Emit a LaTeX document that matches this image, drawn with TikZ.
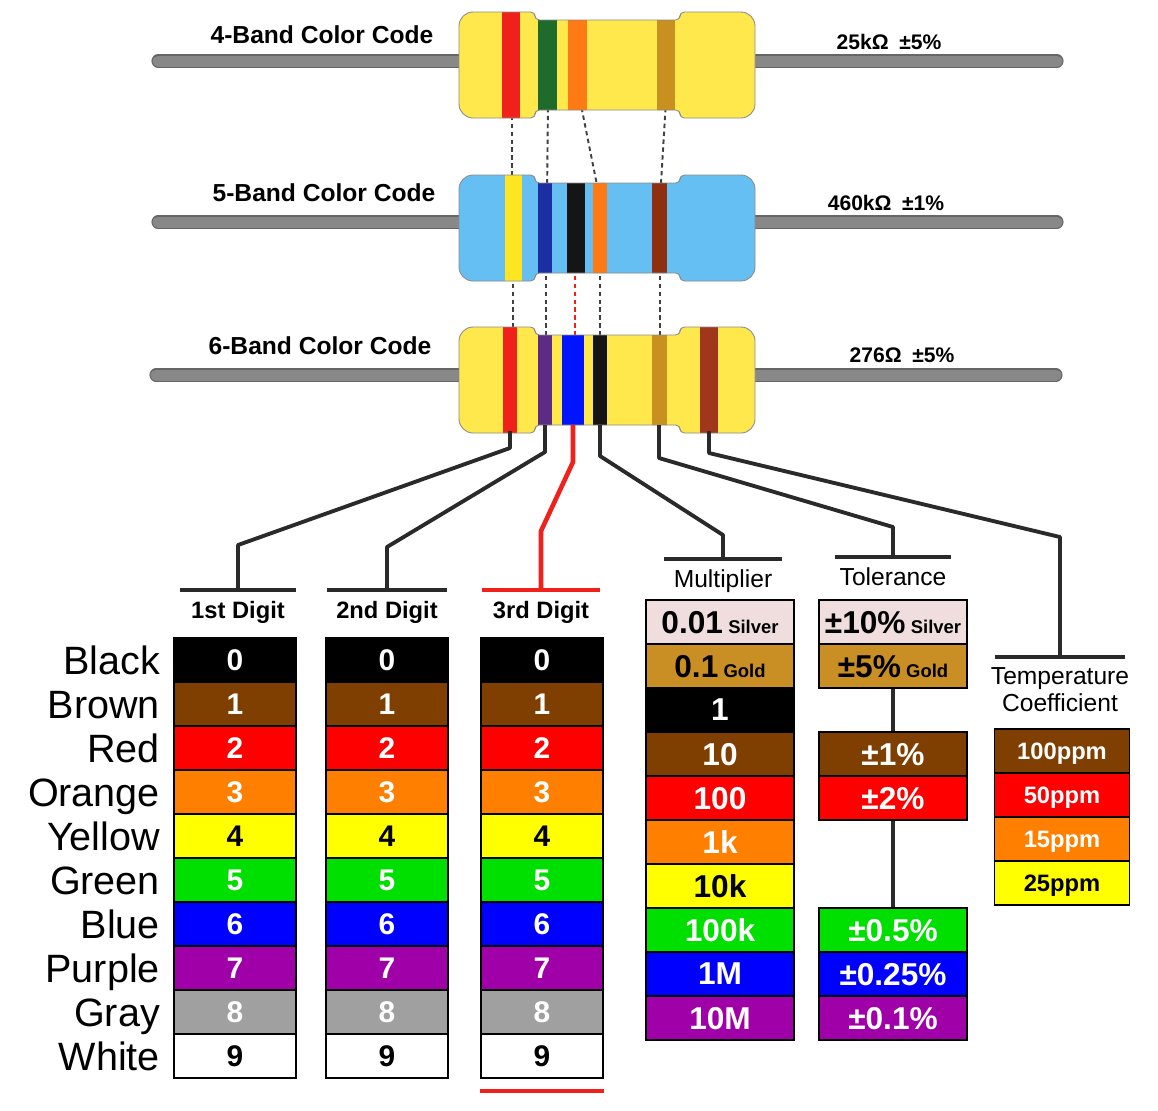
\documentclass[tikz,border=0pt]{standalone}
\usepackage{fontspec}
\setmainfont{Liberation Sans}
\usetikzlibrary{positioning}

% table colours
\definecolor{rcBlack}{HTML}{000000}
\definecolor{rcBrown}{HTML}{7F3F00}
\definecolor{rcRed}{HTML}{FF0000}
\definecolor{rcOrange}{HTML}{FF8000}
\definecolor{rcYellow}{HTML}{FFFF00}
\definecolor{rcGreen}{HTML}{00E000}
\definecolor{rcBlue}{HTML}{0000FF}
\definecolor{rcPurple}{HTML}{A000A8}
\definecolor{rcGray}{HTML}{A0A0A0}
\definecolor{rcWhite}{HTML}{FFFFFF}
\definecolor{rcSilver}{HTML}{F0DEDE}
\definecolor{rcGold}{HTML}{C98F24}
% resistor colours
\definecolor{bodyYellow}{HTML}{FFE84C}
\definecolor{bodyBlue}{HTML}{66BFF2}
\definecolor{bandRed}{HTML}{F0201A}
\definecolor{bandGreen}{HTML}{1F6B2C}
\definecolor{bandOrange}{HTML}{FF7A14}
\definecolor{bandGold}{HTML}{C8901E}
\definecolor{bandYellow}{HTML}{FFE620}
\definecolor{bandNavy}{HTML}{1B2FA3}
\definecolor{bandBlack}{HTML}{151515}
\definecolor{bandBrown}{HTML}{8E2F10}
\definecolor{bandPurple}{HTML}{5B2B86}
\definecolor{bandBlue}{HTML}{0014FF}
\definecolor{bandRust}{HTML}{A0361A}
\definecolor{rodGray}{HTML}{888888}
\definecolor{wireGray}{HTML}{2A2A2A}

% outline of a resistor body, #1 = centre line
\newcommand{\bodypath}[1]{(459,#1) [rounded corners=8pt] -- (459,#1-53) [rounded corners=2.5pt] -- (535,#1-53) -- (535,#1-45) -- (680,#1-45) -- (680,#1-53) [rounded corners=8pt] -- (755,#1-53) -- (755,#1+53) [rounded corners=2.5pt] -- (680,#1+53) -- (680,#1+45) -- (535,#1+45) -- (535,#1+53) [rounded corners=8pt] -- (459,#1+53) -- cycle}

\begin{document}
\begin{tikzpicture}[x=0.02cm, y=-0.02cm,
    lead/.style={draw=black!60, line width=0.6pt, double=rodGray, double distance=0.22cm, line cap=round},
    outline/.style={draw=black!45, line width=0.5pt},
    dashlink/.style={draw=black!75, line width=1.1pt, dash pattern=on 2.5pt off 2pt},
    title/.style={font=\bfseries\fontsize{14}{16}\selectfont},
    value/.style={font=\bfseries\fontsize{12}{14}\selectfont},
    wire/.style={draw=wireGray, line width=2.2pt, line join=round},
    redwire/.style={draw=bandRed, line width=2.6pt, line join=round},
    bar/.style={draw=wireGray, line width=2.4pt},
    redbar/.style={draw=bandRed, line width=2.4pt},
    hook/.style={minimum width=#1, minimum height=0pt, inner sep=0pt},
    head/.style={inner sep=0pt, text height=10pt, text depth=0pt, font=\bfseries\fontsize{13.5}{16}\selectfont},
    colhead/.style={inner sep=0pt, text height=10pt, text depth=0pt, font=\fontsize{14}{15.5}\selectfont},
    rowlbl/.style={inner sep=0pt, text height=16pt, text depth=0pt, font=\fontsize{22.5}{26}\selectfont},
    cell/.style={draw=black, line width=0.9pt, minimum height=0.88cm, inner sep=0pt, text depth=0pt, font=\bfseries\fontsize{17}{20}\selectfont},
    mcell/.style={cell, minimum width=2.96cm, font=\bfseries\fontsize{18}{20}\selectfont},
    pcell/.style={cell, minimum width=2.7cm, font=\bfseries\fontsize{13.5}{16}\selectfont}]

\path[use as bounding box, fill=white] (0,0) rectangle (1158,1110);

% dashed links between the resistors
\foreach \a/\b in {512/512, 548/547, 580/600, 666/660}
    \draw[dashlink] (\a,100) -- (\b,200);
\foreach \a in {513, 546, 600, 660}
    \draw[dashlink] (\a,260) -- (\a,350);
\draw[dashlink, draw=bandRed] (575,260) -- (575,350);

% leads
\draw[lead] (158,61) -- (1057,61);
\draw[lead] (158,222) -- (1057,222);
\draw[lead] (156,375) -- (1056,375);

% 4-band resistor
\fill[bodyYellow] \bodypath{65};
\begin{scope}
    \clip \bodypath{65};
    \fill[bandRed] (502,0) rectangle (520,140);
    \fill[bandGreen] (538,0) rectangle (557,140);
    \fill[bandOrange] (568,0) rectangle (587,140);
    \fill[bandGold] (657,0) rectangle (675,140);
\end{scope}
\draw[outline] \bodypath{65};
\node[title] (name4) at (322,35) {4-Band Color Code};
\node[value] (val4) at (889,42) {25kΩ\enspace ±5\%};

% 5-band resistor
\fill[bodyBlue] \bodypath{228};
\begin{scope}
    \clip \bodypath{228};
    \fill[bandYellow] (505,160) rectangle (522,300);
    \fill[bandNavy] (538,160) rectangle (552,300);
    \fill[bandBlack] (567,160) rectangle (585,300);
    \fill[bandOrange] (593,160) rectangle (607,300);
    \fill[bandBrown] (652,160) rectangle (667,300);
\end{scope}
\draw[outline] \bodypath{228};
\node[title] (name5) at (324,193) {5-Band Color Code};
\node[value] (val5) at (886,203) {460kΩ\enspace ±1\%};

% 6-band resistor
\fill[bodyYellow] \bodypath{380};
\begin{scope}
    \clip \bodypath{380};
    \fill[bandRed] (503,310) rectangle (517,450);
    \fill[bandPurple] (538,310) rectangle (552,450);
    \fill[bandBlue] (562,310) rectangle (584,450);
    \fill[bandBlack] (593,310) rectangle (607,450);
    \fill[bandGold] (652,310) rectangle (667,450);
    \fill[bandRust] (700,310) rectangle (718,450);
\end{scope}
\draw[outline] \bodypath{380};
\node[title] (name6) at (320,346) {6-Band Color Code};
\node[value] (val6) at (902,355) {276Ω\enspace ±5\%};

% band ends of the 6-band resistor
\coordinate (band1) at (510,431);
\coordinate (band2) at (545,425);
\coordinate (band3) at (573,425);
\coordinate (band4) at (600,425);
\coordinate (band5) at (659,425);
\coordinate (band6) at (709,431);

% bars and headings
\node[hook=2.32cm] (m1) at (238,590) {};
\node[hook=2.38cm] (m2) at (387,590) {};
\node[hook=2.34cm] (m3) at (541,590) {};
\node[hook=2.34cm] (m4) at (723,559) {};
\node[hook=2.32cm] (m5) at (893,557) {};
\node[hook=2.6cm] (m6) at (1060,657) {};
\foreach \m in {m1,m2,m4,m5,m6}
    \draw[bar] (\m.west) -- (\m.east);
\draw[redbar] (m3.west) -- (m3.east);

\node[head, below=0.21cm of m1] (h1) {1st Digit};
\node[head, below=0.21cm of m2] (h2) {2nd Digit};
\node[head, below=0.21cm of m3] (h3) {3rd Digit};
\node[colhead, below=0.21cm of m4] (h4) {Multiplier};
\node[colhead, below=0.21cm of m5] (h5) {Tolerance};
\node[inner sep=0pt, align=center, font=\fontsize{14}{15.5}\selectfont, below=0.19cm of m6] (h6) {Temperature\\Coefficient};

% wires from the bands
\draw[wire] (band1) -- ++(0,17) -- ([yshift=0.9cm]m1.center) -- (m1.center);
\draw[wire] (band2) -- ++(0,27) -- ([yshift=0.86cm]m2.center) -- (m2.center);
\draw[redwire] (band3) -- ++(0,37) -- ([yshift=1.18cm]m3.center) -- (m3.center);
\draw[wire] (band4) -- ++(0,31) -- ([yshift=0.48cm]m4.center) -- (m4.center);
\draw[wire] (band5) -- ++(0,33) -- ([yshift=0.6cm]m5.center) -- (m5.center);
\draw[wire] (band6) -- ++(0,22) -- ([yshift=2.4cm]m6.center) -- (m6.center);

% digit columns
\foreach \cx [count=\k] in {235,387,542}
    \foreach \fc/\tc [count=\i from 0] in {rcBlack/white, rcBrown/white, rcRed/white, rcOrange/white, rcYellow/black, rcGreen/white, rcBlue/white, rcPurple/white, rcGray/white, rcWhite/black}
        \node[cell, minimum width=2.44cm, fill=\fc, text=\tc] (d\k-\i) at (\cx,660+44*\i) {\i};
\draw[redbar] ([yshift=-0.24cm]d3-9.south west) -- ([yshift=-0.24cm]d3-9.south east);

\foreach \lbl [count=\i from 0] in {Black,Brown,Red,Orange,Yellow,Green,Blue,Purple,Gray,White}
    \node[rowlbl, left=0.26cm of d1-\i] (l\i) {\lbl};

% multiplier
\foreach \fc/\tc/\val [count=\i from 0] in {rcSilver/black/{0.01\,{\fontsize{10.5}{12}\selectfont Silver}}, rcGold/black/{0.1\,{\fontsize{10.5}{12}\selectfont Gold}}, rcBlack/white/1, rcBrown/white/10, rcRed/white/100, rcOrange/white/1k, rcYellow/black/10k, rcGreen/white/100k, rcBlue/white/1M, rcPurple/white/10M}
    \node[mcell, fill=\fc, text=\tc] (x\i) at (720,622+44*\i) {\val};

% tolerance
\foreach \i/\fc/\tc/\val in {0/rcSilver/black/{±10\%\,{\fontsize{10.5}{12}\selectfont Silver}}, 1/rcGold/black/{±5\%\,{\fontsize{10.5}{12}\selectfont Gold}}, 3/rcBrown/white/±1\%, 4/rcRed/white/±2\%, 7/rcGreen/white/±0.5\%, 8/rcBlue/white/±0.25\%, 9/rcPurple/white/±0.1\%}
    \node[mcell, fill=\fc, text=\tc] (t\i) at (893,622+44*\i) {\val};
\draw[wire] (t1.south) -- (t3.north);
\draw[wire] (t4.south) -- (t7.north);

% temperature coefficient
\foreach \fc/\tc/\val [count=\i from 0] in {rcBrown/white/100ppm, rcRed/white/50ppm, rcOrange/white/15ppm, rcYellow/black/25ppm}
    \node[pcell, fill=\fc, text=\tc] (p\i) at (1062,751+44*\i) {\val};
\end{tikzpicture}
\end{document}
